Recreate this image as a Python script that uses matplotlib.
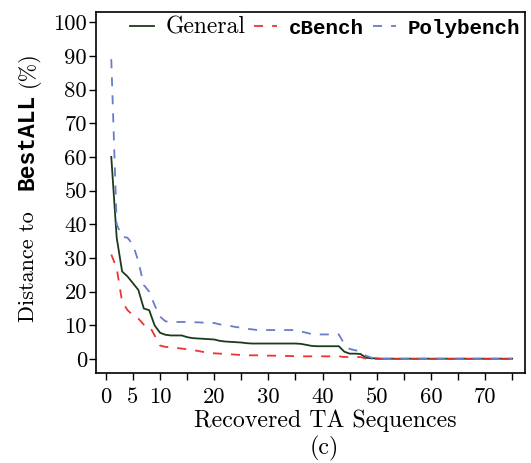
import numpy as np
import matplotlib
matplotlib.use("Agg")
import matplotlib.pyplot as plt

plt.rcParams["font.family"] = "serif"
plt.rcParams["font.serif"] = ["cmr10"]
plt.rcParams["axes.unicode_minus"] = False

MONO = dict(family="Liberation Mono", weight="bold")

# distance (%) to BestALL after recovering n TA sequences
seqs = np.arange(1, 76)
general = [60, 36, 26, 24.5, 22.5, 20.5, 15, 14.5, 10, 7.8,
           7.2, 7.0, 7.0, 7.0, 6.5, 6.2, 6.1, 6.0, 5.9, 5.8,
           5.4, 5.2, 5.1, 5.0, 4.9, 4.7, 4.6, 4.6, 4.6, 4.6,
           4.6, 4.6, 4.6, 4.6, 4.6, 4.5, 4.2, 3.9, 3.8, 3.8,
           3.8, 3.8, 3.8, 2.2, 1.6, 1.6, 1.5, 0.4, 0.2, 0.2] + [0.1] * 25
cbench = [31, 27, 17, 14.5, 13, 12, 10.2, 10, 7, 4,
          3.6, 3.5, 3.3, 3.1, 2.9, 2.7, 2.4, 2.1, 1.8, 1.7,
          1.6, 1.5, 1.4, 1.3, 1.2, 1.1, 1.1, 1.1, 1.0, 1.0,
          1.0, 0.9, 0.9, 0.9, 0.8, 0.8, 0.8, 0.8, 0.8, 0.8,
          0.8, 0.8, 0.8, 0.6, 0.6, 0.6, 0.6, 0.1, 0.0, 0.0] + [0.0] * 25
polybench = [89, 40, 36.3, 36, 34, 29, 22, 20, 16, 12.6,
             11.2, 11.0, 11.0, 11.0, 11.0, 10.9, 10.9, 10.8, 10.8, 10.7,
             10.3, 10.0, 9.8, 9.5, 9.3, 9.0, 8.8, 8.6, 8.6, 8.6,
             8.6, 8.6, 8.6, 8.6, 8.6, 8.2, 7.8, 7.4, 7.3, 7.3,
             7.3, 7.3, 7.3, 4.5, 3.0, 2.6, 2.3, 1.0, 0.4, 0.2] + [0.1] * 25

W, H = 531, 463
fig = plt.figure(figsize=(W / 100, H / 100), dpi=100)
ax = fig.add_axes([0.181, 0.194, 0.808, 0.780])

ax.plot(seqs, general, color="#1c3a1c", lw=1.3, label="General")
ax.plot(seqs, cbench, color="#ee3333", lw=1.3, ls=(0, (5, 5)), label="cBench")
ax.plot(seqs, polybench, color="#6a7cc8", lw=1.3, ls=(0, (5, 5)),
        label="Polybench")

ax.set_xlim(-1.8, 77.4)
ax.set_ylim(-4.2, 103)
ax.set_xticks(np.arange(0, 80, 5))
ax.set_xticklabels(["0", "5", "10", "", "20", "", "30", "", "40", "",
                    "50", "", "60", "", "70", ""])
ax.set_yticks(np.arange(0, 101, 10))
ax.tick_params(direction="out", length=5, width=1, labelsize=16.3)
ax.tick_params(axis="x", pad=5.5)
ax.tick_params(axis="y", pad=1.5)
for s in ax.spines.values():
    s.set_linewidth(1.2)

fig.text(325.5 / W, 1 - 427 / H, "Recovered TA Sequences", fontsize=17.2,
         ha="center", va="baseline")
fig.text(324 / W, 1 - 454 / H, "(c)", fontsize=17.2, ha="center",
         va="baseline")

leg = ax.legend(loc="upper right", ncol=3, frameon=False, fontsize=17,
                handlelength=1.0, handletextpad=0.5, columnspacing=0.35,
                borderaxespad=0.05, borderpad=0.15)
for t in leg.get_texts()[1:]:
    t.set_fontproperties(dict(MONO, size=15))

# y label: serif text with a bold typewriter word in the middle
pieces = [("Distance to", 322, dict(size=16)),
          ("BestALL", 190, dict(MONO, size=16.5)),
          ("(%)", 87, dict(size=16))]
for s, y0, fp in pieces:
    fig.text(33.5 / W, 1 - y0 / H, s, rotation=90, rotation_mode="anchor",
             ha="left", va="baseline", fontproperties=fp)

fig.savefig("out.png", dpi=100)
